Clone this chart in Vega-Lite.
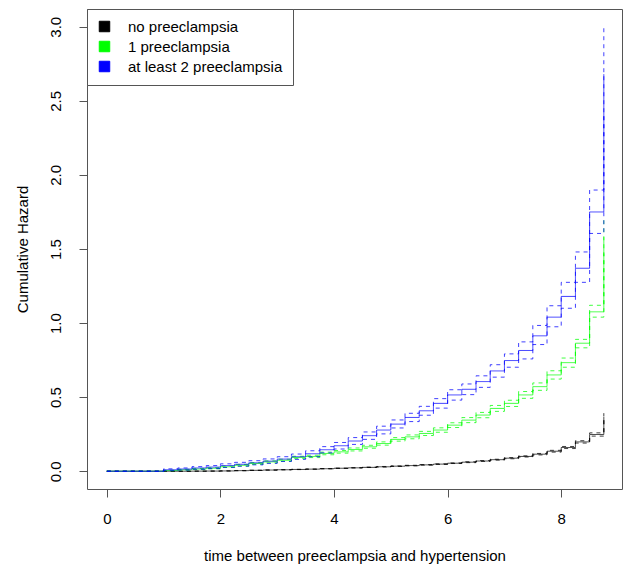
{
  "$schema": "https://vega.github.io/schema/vega-lite/v6.json",
  "width": 535,
  "height": 480,
  "autosize": {"type": "none"},
  "padding": {"left": 87, "top": 9, "right": 1, "bottom": 75},
  "background": "white",
  "config": {
    "font": "Liberation Sans",
    "view": {"stroke": "#555", "strokeWidth": 1},
    "axis": {"grid": false, "domain": false, "tickColor": "#555", "tickSize": 8, "labelFontSize": 15, "labelColor": "#000", "titleFontSize": 15, "titleFontWeight": "normal", "titleColor": "#000"}
  },
  "data": {"values": [
    {"g":"no preeclampsia","t":0,"e":0,"l":0,"u":0},
    {"g":"no preeclampsia","t":1,"e":0,"l":0,"u":0},
    {"g":"no preeclampsia","t":1.25,"e":0,"l":0,"u":0},
    {"g":"no preeclampsia","t":1.5,"e":0.0005,"l":0,"u":0.001},
    {"g":"no preeclampsia","t":1.75,"e":0.001,"l":0.0005,"u":0.0015},
    {"g":"no preeclampsia","t":2,"e":0.002,"l":0.001,"u":0.003},
    {"g":"no preeclampsia","t":2.25,"e":0.004,"l":0.003,"u":0.005},
    {"g":"no preeclampsia","t":2.5,"e":0.006,"l":0.005,"u":0.007},
    {"g":"no preeclampsia","t":2.75,"e":0.008,"l":0.007,"u":0.009},
    {"g":"no preeclampsia","t":3,"e":0.010,"l":0.009,"u":0.011},
    {"g":"no preeclampsia","t":3.25,"e":0.012,"l":0.011,"u":0.013},
    {"g":"no preeclampsia","t":3.5,"e":0.014,"l":0.013,"u":0.015},
    {"g":"no preeclampsia","t":3.75,"e":0.017,"l":0.016,"u":0.018},
    {"g":"no preeclampsia","t":4,"e":0.020,"l":0.019,"u":0.021},
    {"g":"no preeclampsia","t":4.25,"e":0.023,"l":0.022,"u":0.024},
    {"g":"no preeclampsia","t":4.5,"e":0.026,"l":0.025,"u":0.028},
    {"g":"no preeclampsia","t":4.75,"e":0.030,"l":0.028,"u":0.032},
    {"g":"no preeclampsia","t":5,"e":0.034,"l":0.032,"u":0.036},
    {"g":"no preeclampsia","t":5.25,"e":0.038,"l":0.036,"u":0.040},
    {"g":"no preeclampsia","t":5.5,"e":0.043,"l":0.041,"u":0.045},
    {"g":"no preeclampsia","t":5.75,"e":0.048,"l":0.046,"u":0.050},
    {"g":"no preeclampsia","t":6,"e":0.054,"l":0.052,"u":0.056},
    {"g":"no preeclampsia","t":6.25,"e":0.061,"l":0.058,"u":0.064},
    {"g":"no preeclampsia","t":6.5,"e":0.069,"l":0.066,"u":0.072},
    {"g":"no preeclampsia","t":6.75,"e":0.078,"l":0.075,"u":0.081},
    {"g":"no preeclampsia","t":7,"e":0.088,"l":0.084,"u":0.092},
    {"g":"no preeclampsia","t":7.25,"e":0.100,"l":0.096,"u":0.104},
    {"g":"no preeclampsia","t":7.5,"e":0.115,"l":0.110,"u":0.120},
    {"g":"no preeclampsia","t":7.75,"e":0.135,"l":0.129,"u":0.141},
    {"g":"no preeclampsia","t":8,"e":0.160,"l":0.153,"u":0.167},
    {"g":"no preeclampsia","t":8.25,"e":0.198,"l":0.190,"u":0.206},
    {"g":"no preeclampsia","t":8.5,"e":0.248,"l":0.237,"u":0.259},
    {"g":"no preeclampsia","t":8.75,"e":0.368,"l":0.345,"u":0.392},
    {"g":"1 preeclampsia","t":0,"e":0,"l":0,"u":0},
    {"g":"1 preeclampsia","t":1,"e":0.005,"l":0.003,"u":0.007},
    {"g":"1 preeclampsia","t":1.25,"e":0.010,"l":0.007,"u":0.013},
    {"g":"1 preeclampsia","t":1.5,"e":0.015,"l":0.011,"u":0.019},
    {"g":"1 preeclampsia","t":1.75,"e":0.020,"l":0.016,"u":0.024},
    {"g":"1 preeclampsia","t":2,"e":0.030,"l":0.025,"u":0.035},
    {"g":"1 preeclampsia","t":2.25,"e":0.040,"l":0.034,"u":0.046},
    {"g":"1 preeclampsia","t":2.5,"e":0.052,"l":0.046,"u":0.058},
    {"g":"1 preeclampsia","t":2.75,"e":0.063,"l":0.056,"u":0.070},
    {"g":"1 preeclampsia","t":3,"e":0.074,"l":0.067,"u":0.081},
    {"g":"1 preeclampsia","t":3.25,"e":0.093,"l":0.085,"u":0.101},
    {"g":"1 preeclampsia","t":3.5,"e":0.100,"l":0.092,"u":0.108},
    {"g":"1 preeclampsia","t":3.75,"e":0.120,"l":0.111,"u":0.129},
    {"g":"1 preeclampsia","t":4,"e":0.131,"l":0.122,"u":0.140},
    {"g":"1 preeclampsia","t":4.25,"e":0.147,"l":0.137,"u":0.157},
    {"g":"1 preeclampsia","t":4.5,"e":0.165,"l":0.155,"u":0.175},
    {"g":"1 preeclampsia","t":4.75,"e":0.187,"l":0.176,"u":0.198},
    {"g":"1 preeclampsia","t":5,"e":0.215,"l":0.203,"u":0.227},
    {"g":"1 preeclampsia","t":5.25,"e":0.232,"l":0.219,"u":0.245},
    {"g":"1 preeclampsia","t":5.5,"e":0.255,"l":0.241,"u":0.269},
    {"g":"1 preeclampsia","t":5.75,"e":0.278,"l":0.263,"u":0.293},
    {"g":"1 preeclampsia","t":6,"e":0.311,"l":0.295,"u":0.327},
    {"g":"1 preeclampsia","t":6.25,"e":0.345,"l":0.328,"u":0.362},
    {"g":"1 preeclampsia","t":6.5,"e":0.379,"l":0.361,"u":0.397},
    {"g":"1 preeclampsia","t":6.75,"e":0.424,"l":0.404,"u":0.444},
    {"g":"1 preeclampsia","t":7,"e":0.458,"l":0.437,"u":0.479},
    {"g":"1 preeclampsia","t":7.25,"e":0.515,"l":0.492,"u":0.538},
    {"g":"1 preeclampsia","t":7.5,"e":0.571,"l":0.546,"u":0.596},
    {"g":"1 preeclampsia","t":7.75,"e":0.650,"l":0.622,"u":0.678},
    {"g":"1 preeclampsia","t":8,"e":0.733,"l":0.702,"u":0.764},
    {"g":"1 preeclampsia","t":8.25,"e":0.864,"l":0.833,"u":0.890},
    {"g":"1 preeclampsia","t":8.5,"e":1.076,"l":1.040,"u":1.120},
    {"g":"1 preeclampsia","t":8.75,"e":1.580,"l":1.470,"u":1.700},
    {"g":"at least 2 preeclampsia","t":0,"e":0,"l":0,"u":0},
    {"g":"at least 2 preeclampsia","t":1,"e":0.010,"l":0.004,"u":0.016},
    {"g":"at least 2 preeclampsia","t":1.25,"e":0.015,"l":0.008,"u":0.022},
    {"g":"at least 2 preeclampsia","t":1.5,"e":0.022,"l":0.013,"u":0.031},
    {"g":"at least 2 preeclampsia","t":1.75,"e":0.028,"l":0.018,"u":0.038},
    {"g":"at least 2 preeclampsia","t":2,"e":0.038,"l":0.026,"u":0.050},
    {"g":"at least 2 preeclampsia","t":2.25,"e":0.047,"l":0.034,"u":0.060},
    {"g":"at least 2 preeclampsia","t":2.5,"e":0.057,"l":0.043,"u":0.071},
    {"g":"at least 2 preeclampsia","t":2.75,"e":0.068,"l":0.053,"u":0.083},
    {"g":"at least 2 preeclampsia","t":3,"e":0.082,"l":0.066,"u":0.098},
    {"g":"at least 2 preeclampsia","t":3.25,"e":0.098,"l":0.080,"u":0.116},
    {"g":"at least 2 preeclampsia","t":3.5,"e":0.118,"l":0.098,"u":0.138},
    {"g":"at least 2 preeclampsia","t":3.75,"e":0.145,"l":0.124,"u":0.166},
    {"g":"at least 2 preeclampsia","t":4,"e":0.172,"l":0.150,"u":0.194},
    {"g":"at least 2 preeclampsia","t":4.25,"e":0.204,"l":0.181,"u":0.227},
    {"g":"at least 2 preeclampsia","t":4.5,"e":0.240,"l":0.215,"u":0.265},
    {"g":"at least 2 preeclampsia","t":4.75,"e":0.278,"l":0.252,"u":0.304},
    {"g":"at least 2 preeclampsia","t":5,"e":0.318,"l":0.292,"u":0.346},
    {"g":"at least 2 preeclampsia","t":5.25,"e":0.363,"l":0.335,"u":0.391},
    {"g":"at least 2 preeclampsia","t":5.5,"e":0.408,"l":0.378,"u":0.438},
    {"g":"at least 2 preeclampsia","t":5.75,"e":0.458,"l":0.426,"u":0.490},
    {"g":"at least 2 preeclampsia","t":6,"e":0.515,"l":0.480,"u":0.550},
    {"g":"at least 2 preeclampsia","t":6.25,"e":0.553,"l":0.517,"u":0.589},
    {"g":"at least 2 preeclampsia","t":6.5,"e":0.605,"l":0.566,"u":0.644},
    {"g":"at least 2 preeclampsia","t":6.75,"e":0.677,"l":0.635,"u":0.719},
    {"g":"at least 2 preeclampsia","t":7,"e":0.747,"l":0.702,"u":0.792},
    {"g":"at least 2 preeclampsia","t":7.25,"e":0.815,"l":0.758,"u":0.873},
    {"g":"at least 2 preeclampsia","t":7.5,"e":0.914,"l":0.855,"u":0.984},
    {"g":"at least 2 preeclampsia","t":7.75,"e":1.040,"l":0.975,"u":1.117},
    {"g":"at least 2 preeclampsia","t":8,"e":1.180,"l":1.100,"u":1.275},
    {"g":"at least 2 preeclampsia","t":8.25,"e":1.370,"l":1.275,"u":1.480},
    {"g":"at least 2 preeclampsia","t":8.5,"e":1.750,"l":1.605,"u":1.898},
    {"g":"at least 2 preeclampsia","t":8.75,"e":2.680,"l":2.400,"u":2.990}
  ]},
  "transform": [{"fold": ["e", "l", "u"], "as": ["kind", "v"]}],
  "encoding": {
    "x": {
      "field": "t", "type": "quantitative",
      "scale": {"domain": [-0.349, 9.07], "nice": false, "zero": false},
      "axis": {"values": [0, 2, 4, 6, 8], "labelPadding": 14, "title": "time between preeclampsia and hypertension", "titleY": 66, "titleBaseline": "middle"}
    },
    "y": {
      "field": "v", "type": "quantitative",
      "scale": {"domain": [-0.12, 3.12], "nice": false, "zero": false},
      "axis": {"values": [0, 0.5, 1, 1.5, 2, 2.5, 3], "format": ".1f", "labelAngle": -90, "labelAlign": "center", "labelBaseline": "bottom", "labelPadding": 16, "title": "Cumulative Hazard", "titleX": -65, "titleBaseline": "middle", "titleAlign": "center"}
    },
    "color": {
      "field": "g", "type": "nominal",
      "scale": {"domain": ["no preeclampsia", "1 preeclampsia", "at least 2 preeclampsia"], "range": ["#000000", "#00ff00", "#0000ff"]},
      "legend": {
        "orient": "none", "legendX": 0, "legendY": 0, "title": null,
        "symbolType": "square", "symbolSize": 110, "symbolStrokeColor": "black", "symbolStrokeWidth": 1, "symbolOpacity": 1,
        "labelFontSize": 15, "labelColor": "#000", "labelOffset": 16, "padding": 10, "rowPadding": 4,
        "strokeColor": "#555", "fillColor": "white"
      }
    }
  },
  "layer": [
    {
      "transform": [{"filter": "datum.t == 0 && datum.kind == 'e'"}],
      "mark": {"type": "square", "filled": true, "size": 0, "stroke": "black", "strokeWidth": 1, "opacity": 1}
    },
    {
      "mark": {"type": "line", "interpolate": "step-after", "strokeWidth": 1, "opacity": 0.75},
      "encoding": {
        "strokeDash": {
          "field": "kind", "type": "nominal",
          "scale": {"domain": ["e", "l", "u"], "range": [[1, 0], [4, 4], [4, 4]]},
          "legend": null
        }
      }
    }
  ]
}
